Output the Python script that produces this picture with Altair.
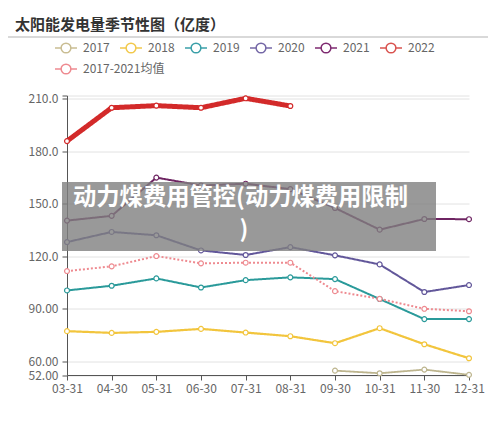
import altair as alt
import pandas as pd

categories = ["03-31", "04-30", "05-31", "06-30", "07-31", "08-31", "09-30", "10-31", "11-30", "12-31"]
series_names = ["2017", "2018", "2019", "2020", "2021", "2022", "2017-2021均值"]
v2017 = [None, None, None, None, None, None, 54.5, 53.0, 55.1, 52.1]
v2018 = [77.1, 76.1, 76.7, 78.4, 76.3, 74.2, 70.2, 78.8, 69.6, 61.6]
v2019 = [100.4, 103.1, 107.3, 102.1, 106.3, 107.9, 106.9, 95.5, 84.0, 84.0]
v2020 = [128.1, 133.9, 132.0, 123.3, 120.7, 125.2, 120.5, 115.3, 99.5, 103.5]
v2021 = [140.4, 143.1, 165.0, 160.5, 161.5, 158.4, 147.6, 135.2, 141.3, 141.2]
v2022 = [185.9, 205.0, 206.2, 205.0, 210.4, 206.0, None, None, None, None]
vavg = [111.5, 114.2, 120.1, 115.9, 116.3, 116.3, 100.0, 95.6, 89.9, 88.5]
colors = ["#bdb58e", "#f2c53d", "#2a9a9a", "#62579a", "#6e2462", "#d32a2a", "#ee8a90"]
legend_colors = ["#c9bd92", "#f2c94c", "#3a9fa8", "#7467a6", "#7e2a70", "#d9534f", "#ee8a90"]
widths = [1.8, 2.2, 2.0, 2.0, 2.0, 5.0, 2.0]
dashes = [[1, 0], [1, 0], [1, 0], [1, 0], [1, 0], [1, 0], [2, 2]]

title_text = "太阳能发电量季节性图（亿度）"
overlay_line1 = "动力煤费用管控(动力煤费用限制"
overlay_line2 = ")"

all_vals = [v2017, v2018, v2019, v2020, v2021, v2022, vavg]
rows = []
for name, vals, w in zip(series_names, all_vals, widths):
    for c, v in zip(categories, vals):
        if v is not None:
            rows.append({"date": c, "value": v, "series": name, "w": w})
df = pd.DataFrame(rows)

FONT = "Noto Sans CJK SC"

x_enc = alt.X("date:N", sort=categories,
              scale=alt.Scale(type="point", padding=0, domain=categories),
              axis=alt.Axis(title=None, labelAngle=0, labelColor="#666", labelFontSize=12,
                            domainColor="#555", tickColor="#555", tickSize=5,
                            labelPadding=3, grid=False, labelFont=FONT))
y_enc = alt.Y("value:Q", scale=alt.Scale(domain=[52, 212], nice=False, zero=False),
              axis=alt.Axis(title=None, values=[52, 60, 90, 120, 150, 180, 210, 212],
                            labelExpr="datum.value == 212 ? '' : format(datum.value, '.4r')",
                            labelColor="#666", labelFontSize=12, domainColor="#555",
                            tickColor="#555", tickSize=5, labelPadding=4,
                            gridColor="#e2e2e2", labelFont=FONT))

color_scale = alt.Scale(domain=series_names, range=colors)

lines = alt.Chart(df).mark_line().encode(
    x=x_enc, y=y_enc,
    color=alt.Color("series:N", sort=series_names, scale=color_scale, legend=None),
    strokeWidth=alt.StrokeWidth("w:Q", scale=None, legend=None),
    strokeDash=alt.StrokeDash("series:N", scale=alt.Scale(domain=series_names, range=dashes), legend=None),
    detail="series:N",
)

points = alt.Chart(df).mark_point(filled=False, fill="white", fillOpacity=1, size=24, strokeWidth=1.2).encode(
    x=x_enc, y=y_enc,
    color=alt.Color("series:N", sort=series_names, scale=color_scale, legend=None)
)

one = pd.DataFrame({"t": [title_text], "a": [overlay_line1], "b": [overlay_line2]})

title_mark = alt.Chart(one).mark_text(align="left", baseline="middle", fontSize=15,
                                      fontWeight="bold", color="#333", font=FONT).encode(
    x=alt.value(-52), y=alt.value(-70.5), text="t:N")

sep = alt.Chart(one).mark_rule(color="#cccccc", strokeWidth=1.5).encode(
    x=alt.value(-59), x2=alt.value(421), y=alt.value(-58.5))

# manual legend (layout only; entries come from series_names / legend_colors)
legend_layers = []
for i, (name, col) in enumerate(zip(series_names, legend_colors)):
    lx = -12 + 65 * (i % 6)
    ly = -47.5 + 21 * (i // 6)
    ld = pd.DataFrame({"s": [name]})
    legend_layers.append(alt.Chart(ld).mark_rule(color=col, strokeWidth=1.5).encode(
        x=alt.value(lx), x2=alt.value(lx + 22), y=alt.value(ly)))
    legend_layers.append(alt.Chart(ld).mark_point(shape="circle", filled=False, fill="white",
                                                  fillOpacity=1, color=col, size=95,
                                                  strokeWidth=1.5).encode(
        x=alt.value(lx + 11), y=alt.value(ly)))
    legend_layers.append(alt.Chart(ld).mark_text(align="left", baseline="middle", fontSize=12,
                                                 color="#666", font=FONT).encode(
        x=alt.value(lx + 28), y=alt.value(ly), text="s:N"))

rect = alt.Chart(one).mark_rect(color="#808080", opacity=0.8).encode(
    x=alt.value(-5), x2=alt.value(369), y=alt.value(86.5), y2=alt.value(155.5))

ov1 = alt.Chart(one).mark_text(align="left", baseline="middle", fontSize=23.3, fontWeight="bold",
                               color="white", font=FONT).encode(
    x=alt.value(6), y=alt.value(102.5), text="a:N")
ov2 = alt.Chart(one).mark_text(align="center", baseline="middle", fontSize=23.3, fontWeight="bold",
                               color="white", font=FONT).encode(
    x=alt.value(177), y=alt.value(134), text="b:N")

chart = alt.layer(lines, points, title_mark, sep, *legend_layers, rect, ov1, ov2).properties(
    width=402, height=279.5,
    padding={"left": 67, "top": 95.5, "right": 31, "bottom": 58},
    autosize=alt.AutoSizeParams(type="none"),
    background="white",
).configure_view(stroke=None)

chart.save("out.html", embed_options={"renderer": "svg", "actions": False})
